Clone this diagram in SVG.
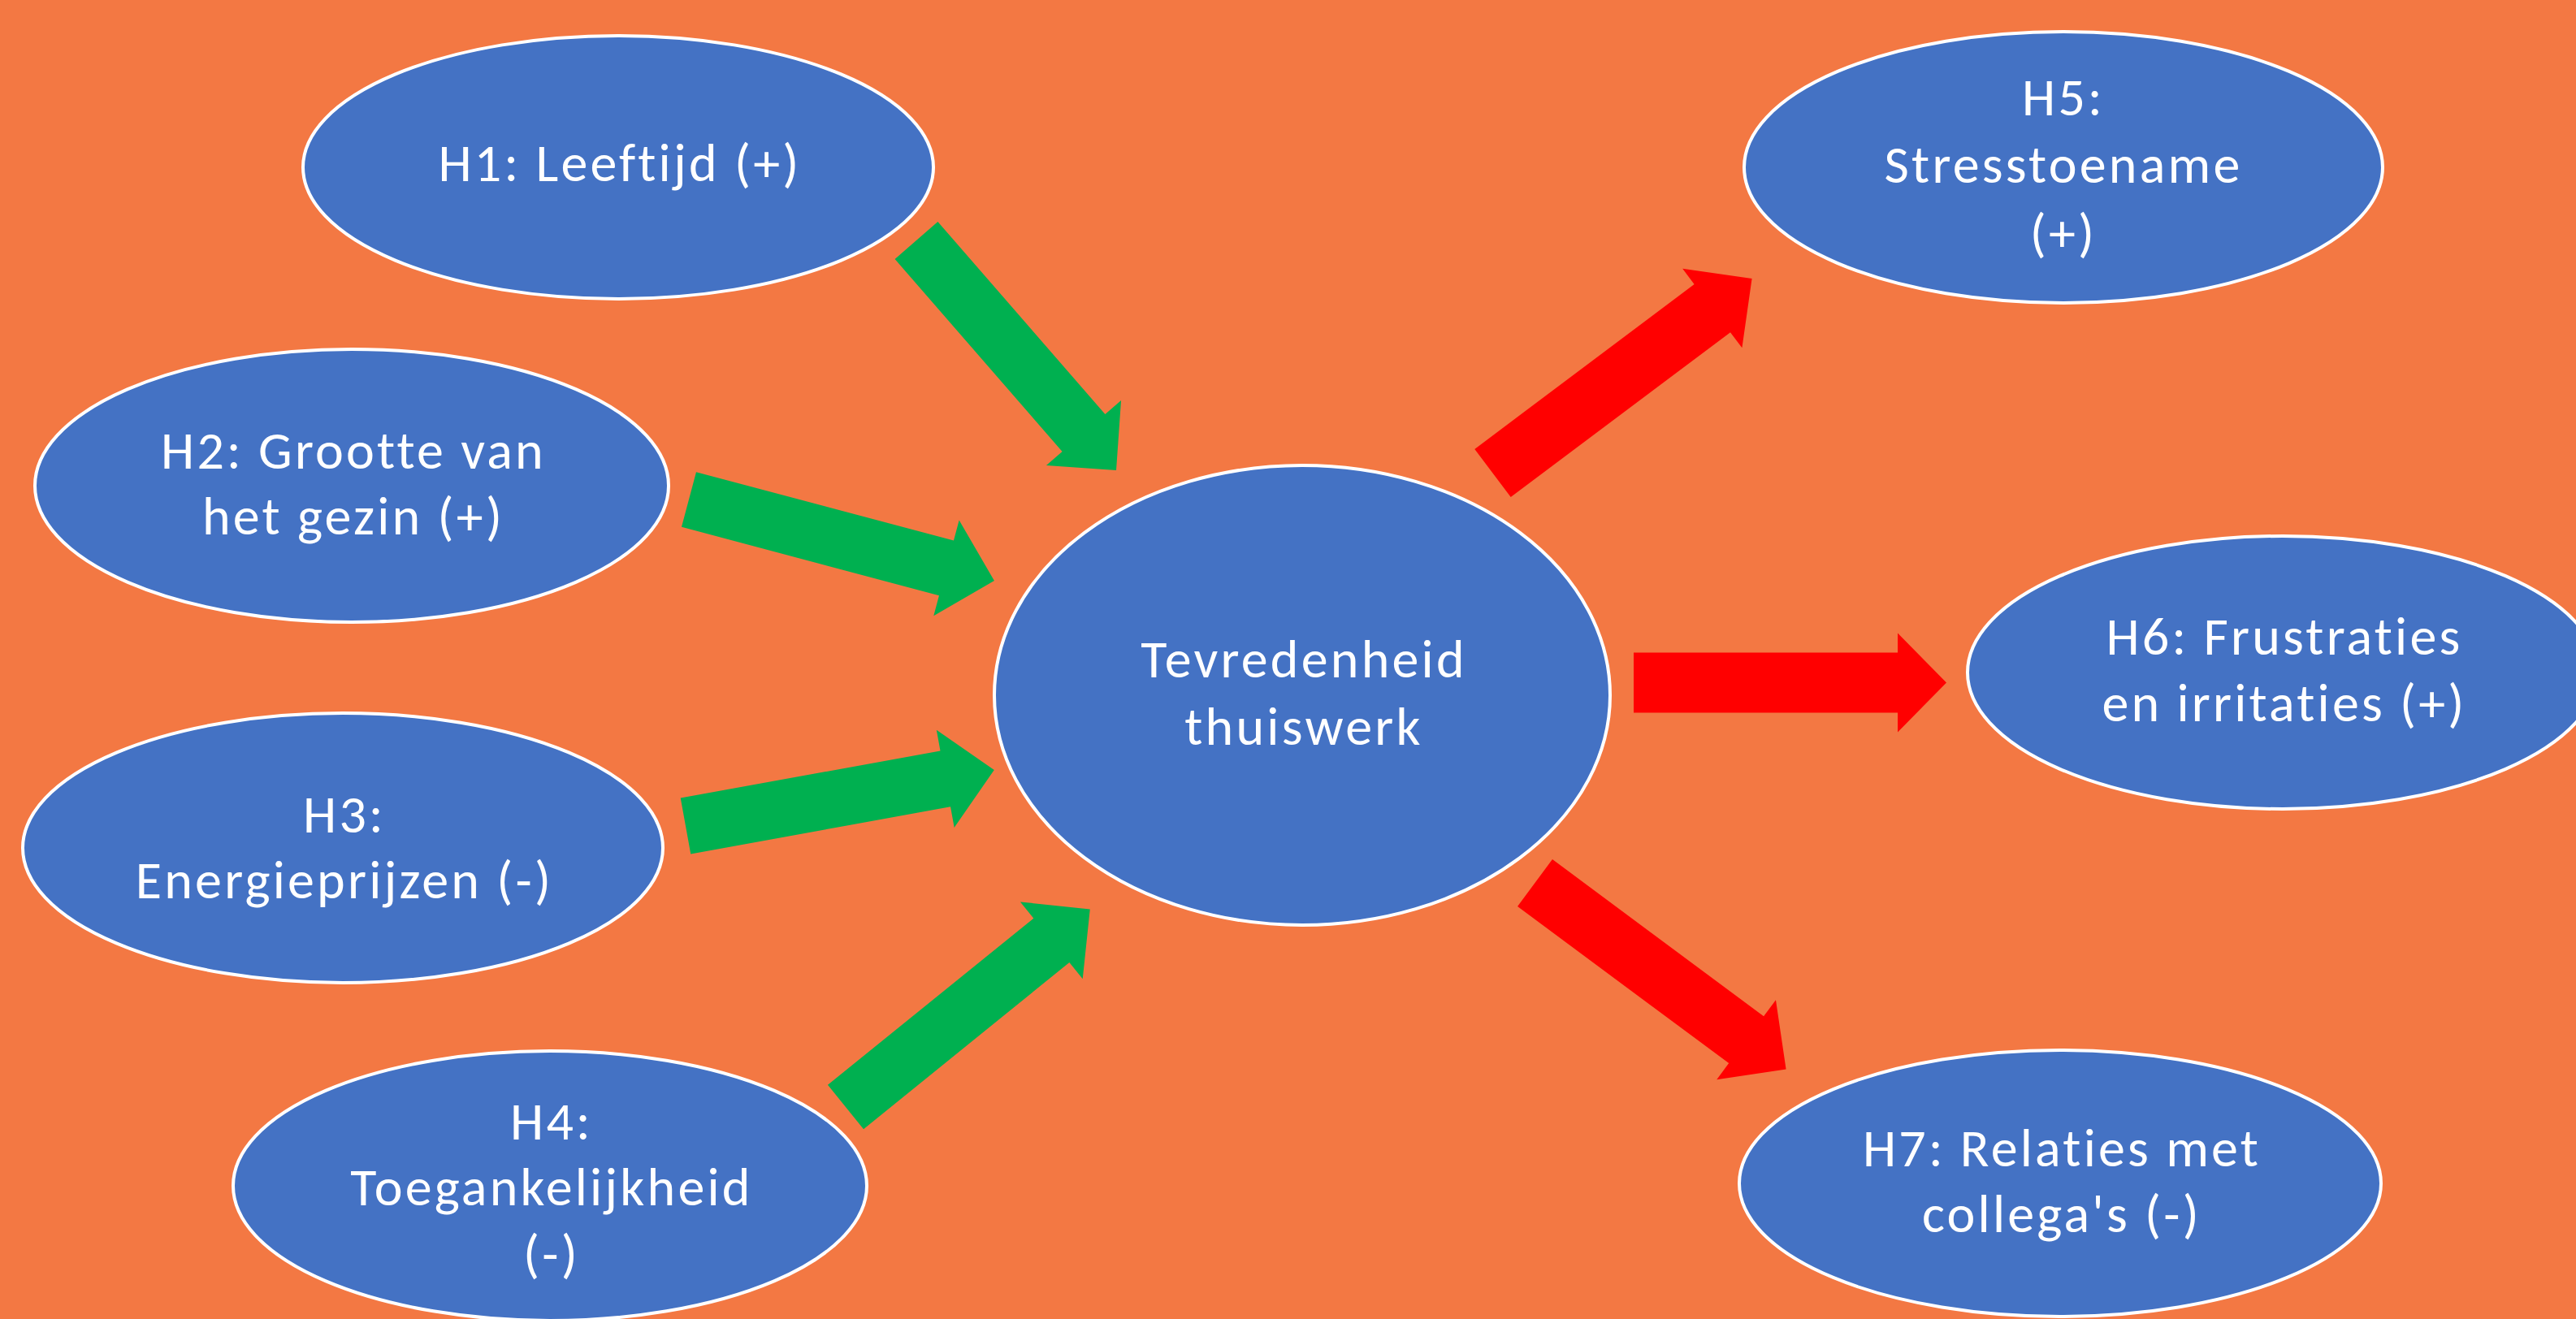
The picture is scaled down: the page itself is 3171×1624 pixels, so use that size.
<svg xmlns="http://www.w3.org/2000/svg" width="3171" height="1624" viewBox="0 0 3171 1624">
<style>
.bg{fill:#F37843}
.node ellipse{fill:#4472C4;stroke:#FFFFFF;stroke-width:4}
.node text{font-family:Carlito,Calibri,Lato,"Liberation Sans",sans-serif;font-size:66px;letter-spacing:3.2px;fill:#FFFFFF;text-anchor:middle;font-variant-ligatures:none}
.g{fill:#00B050}
.r{fill:#FF0000}
</style>
<rect class="bg" x="0" y="0" width="3171" height="1624"/>
<g id="connectors">
<path class="g" transform="translate(1128,296) rotate(49)" d="M0,-35 H314 V-61 L375,0 L314,61 V35 H0 Z"/>
<path class="g" transform="translate(848,615) rotate(14.9)" d="M0,-35 H328 V-61 L389,0 L328,61 V35 H0 Z"/>
<path class="g" transform="translate(844,1017) rotate(-10.3)" d="M0,-35 H325 V-61 L386,0 L325,61 V35 H0 Z"/>
<path class="g" transform="translate(1041,1363) rotate(-39)" d="M0,-35 H326 V-61 L387,0 L326,61 V35 H0 Z"/>
<path class="r" transform="translate(1837.5,582.5) rotate(-36.9)" d="M0,-37 H338 V-61 L399,0 L338,61 V37 H0 Z"/>
<path class="r" transform="translate(2011,840.5)" d="M0,-37 H325 V-61 L385,0 L325,61 V37 H0 Z"/>
<path class="r" transform="translate(1889.5,1087) rotate(36.6)" d="M0,-36 H324 V-61 L385,0 L324,61 V36 H0 Z"/>
</g>
<g id="h1" class="node">
<ellipse cx="761" cy="206" rx="388" ry="162"/>
<text x="763" y="223">H1: Leeftijd (+)</text>
</g>
<g id="h2" class="node">
<ellipse cx="433" cy="598" rx="390" ry="168"/>
<text x="435" y="577">H2: Grootte van</text>
<text x="435" y="658">het gezin (+)</text>
</g>
<g id="h3" class="node">
<ellipse cx="422" cy="1044" rx="394" ry="166"/>
<text x="424" y="1025">H3:</text>
<text x="424" y="1106">Energieprijzen (-)</text>
</g>
<g id="h4" class="node">
<ellipse cx="677" cy="1460" rx="390" ry="166"/>
<text x="679" y="1403">H4:</text>
<text x="679" y="1484">Toegankelijkheid</text>
<text x="679" y="1566">(-)</text>
</g>
<g id="center" class="node">
<ellipse cx="1603" cy="856" rx="379" ry="283"/>
<text x="1605" y="834">Tevredenheid</text>
<text x="1605" y="917">thuiswerk</text>
</g>
<g id="h5" class="node">
<ellipse cx="2540" cy="206" rx="393" ry="167"/>
<text x="2540" y="142">H5:</text>
<text x="2540" y="225">Stresstoename</text>
<text x="2540" y="309">(+)</text>
</g>
<g id="h6" class="node">
<ellipse cx="2810" cy="828" rx="388" ry="168"/>
<text x="2812" y="806">H6: Frustraties</text>
<text x="2812" y="888">en irritaties (+)</text>
</g>
<g id="h7" class="node">
<ellipse cx="2536" cy="1457" rx="395" ry="164"/>
<text x="2538" y="1436">H7: Relaties met</text>
<text x="2538" y="1517">collega's (-)</text>
</g>
</svg>
